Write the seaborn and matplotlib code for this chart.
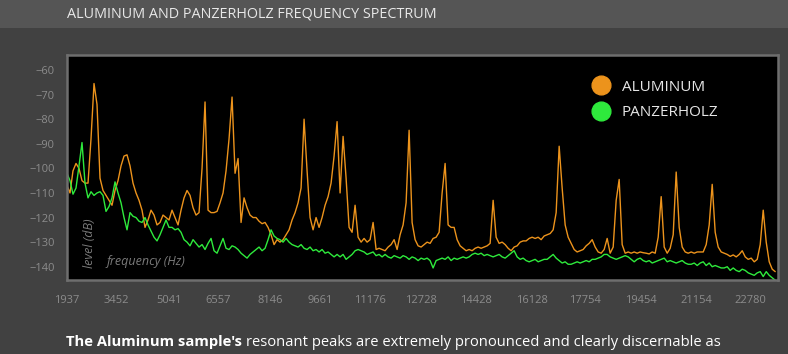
"""
Aluminum vs Panzerholz frequency spectrum
"""

import numpy as np
import pandas as pd
import matplotlib
matplotlib.use('Agg')
import matplotlib.pyplot as plt
import seaborn as sns
from matplotlib.lines import Line2D
from matplotlib.patches import Rectangle

# spectrum bins (evenly spaced FFT bins)
BIN_START_HZ = 1937
BIN_WIDTH_HZ = 91.56

ALUMINUM_DB = [
    -107, -110, -101, -98, -100, -105, -106, -106, -88, -65.5,
    -74, -104, -109, -111, -113, -115, -109, -105, -99, -95,
    -94.5, -99, -106, -110, -113, -117, -124, -121, -117, -119,
    -123, -122, -119, -120, -121, -117, -120, -123, -117, -112,
    -109, -111, -116, -119, -118, -100, -73, -117, -118, -118,
    -117.5, -114, -110, -101, -88, -71, -102, -96, -122, -112,
    -116, -119, -120, -120, -121.5, -122.5, -122, -124, -127, -131,
    -129, -130, -129, -127, -125, -121, -118, -114, -108, -80,
    -101, -120, -125, -120, -124, -120, -115, -111.5, -106, -95,
    -81, -110, -87, -104, -124, -126, -115, -128, -130, -128.5,
    -130, -129, -122, -133, -132.5, -133, -133.5, -132, -131, -129,
    -133, -127, -123, -114, -84.5, -122, -129, -131.5, -132, -131,
    -130, -130.5, -128.5, -128, -126, -110, -98, -123, -124, -124,
    -129, -131.5, -132.5, -133.5, -133, -133.5, -132.5, -132, -132.5, -132,
    -131.5, -130.5, -113, -128, -130.5, -130, -131, -132.5, -133.5, -132,
    -131.5, -130, -129.5, -129.5, -128.5, -128, -128.5, -128, -129, -127.5,
    -127, -126.5, -125, -118, -91, -108, -123, -128, -130.5, -133,
    -134, -133.5, -133, -131.5, -130.5, -129, -132, -134, -134.5, -133,
    -128.5, -134.5, -132, -113, -104.5, -131, -134.5, -134, -134.5, -134,
    -134.5, -134, -134.3, -134.5, -134.8, -134, -134.5, -128, -111.5, -132,
    -134.5, -132.5, -127, -101.5, -124, -132, -134, -134.5, -134, -134.5,
    -134, -134, -134, -131, -123, -106.5, -126, -132, -134, -134.5,
    -135, -135.8, -135.2, -136, -135, -133.5, -136, -137, -136.5, -138,
    -137, -131, -117, -130, -138, -141, -142,
]

PANZERHOLZ_DB = [
    -102, -105, -110.5, -108, -99, -89.5, -106, -112, -109.5, -111,
    -110, -109.5, -111, -117.5, -115.5, -112, -105.5, -110, -114, -120,
    -125, -118, -119.5, -120, -121.5, -122, -120, -123, -125.5, -128,
    -129.5, -127, -124, -121, -124, -124, -125, -124.5, -126, -129,
    -130, -131.5, -129, -130.5, -132, -131, -133, -130.5, -128.5, -133.5,
    -134.5, -131.5, -128.5, -132.5, -133, -131.5, -132, -133, -134.5, -135.5,
    -136.5, -135, -134, -133, -132, -133.5, -132.5, -129, -125, -127.5,
    -128.5, -129, -130, -128.5, -130, -131, -131.5, -132, -131, -132.5,
    -133, -132, -133.5, -133, -134, -133, -134.5, -134, -135, -136,
    -135, -136, -135, -137, -136, -135, -133.5, -133, -133.5, -134,
    -135, -134.5, -134, -135.5, -135, -136, -135, -136, -136.5, -135.5,
    -136, -136.5, -135.5, -136, -137, -136, -136.5, -137.5, -136.5, -137,
    -136.5, -137.5, -140.5, -137.5, -137, -136.5, -137, -136, -137.5, -136.5,
    -137, -136.5, -136, -136.5, -136, -135, -134.5, -135, -134.5, -135.5,
    -135, -135.5, -136, -135.5, -135, -136, -136.5, -135.5, -134.5, -133.5,
    -136, -137, -136.5, -137.5, -138, -137.5, -137, -138, -137.5, -137,
    -137, -136, -135, -136.5, -137.5, -138.5, -138, -139, -139, -138.5,
    -138, -138.5, -138, -137.5, -138, -137, -137, -136.5, -136, -135,
    -135, -136, -136.5, -137, -136.5, -136, -135.5, -136, -137, -138,
    -137, -136.5, -137.5, -138, -137.5, -138.5, -138, -137.5, -137, -136.5,
    -138, -137.5, -138, -138.5, -138, -137.5, -138.5, -139, -139, -138.5,
    -139.5, -138.5, -138, -139.5, -138.5, -140, -139.5, -140, -140.5, -140.5,
    -140, -141.5, -140.5, -141.5, -142, -141, -141.5, -142.5, -143, -143.5,
    -142.5, -142, -144, -142, -143.5, -144.5, -145.5,
]

TICK_FREQS = [1937, 3452, 5041, 6557, 8146, 9661, 11176, 12728,
              14428, 16128, 17754, 19454, 21154, 22780]
LEVEL_TICKS = [-140, -130, -120, -110, -100, -90, -80, -70, -60]

SERIES = ['ALUMINUM', 'PANZERHOLZ']
COLORS = {'ALUMINUM': '#ec931c', 'PANZERHOLZ': '#2eea3c'}

BG = '#414141'
BAND = '#555555'
FRAME = '#6e6e6e'
TICK_TXT = '#8c8c8c'

sns.set_style("dark")
plt.rcParams['font.family'] = ['Open Sans', 'DejaVu Sans']

freq = BIN_START_HZ + BIN_WIDTH_HZ * np.arange(len(ALUMINUM_DB))
df = pd.concat([
    pd.DataFrame({'freq': freq, 'level': ALUMINUM_DB, 'sample': 'ALUMINUM'}),
    pd.DataFrame({'freq': freq, 'level': PANZERHOLZ_DB, 'sample': 'PANZERHOLZ'}),
])

W, H = 788, 354
fig = plt.figure(figsize=(W / 100, H / 100), dpi=100, facecolor=BG)

# title band
fig.patches.append(Rectangle((0, 1 - 28 / H), 1, 28 / H, transform=fig.transFigure,
                             facecolor=BAND, edgecolor='none', zorder=0))
fig.text(67 / W, 1 - 14 / H, 'ALUMINUM AND PANZERHOLZ FREQUENCY SPECTRUM',
         color='#e8e8e8', fontsize=10.4, va='center', ha='left')

ax = fig.add_axes([67 / W, 1 - 280 / H, 711 / W, 225 / H])
ax.set_facecolor('black')

sns.lineplot(data=df, x='freq', y='level', hue='sample', hue_order=SERIES,
             palette=COLORS, linewidth=1.0, estimator=None, sort=False,
             legend=False, ax=ax)

ax.set_xlim(1937, 23630)
ax.set_ylim(-145.4, -53.9)
ax.set_xticks(TICK_FREQS)
ax.set_xticklabels([str(t) for t in TICK_FREQS])
ax.set_yticks(LEVEL_TICKS)
ax.set_xlabel('')
ax.set_ylabel('')
ax.grid(False)
for s in ax.spines.values():
    s.set_visible(True)
    s.set_color(FRAME)
    s.set_linewidth(1.8)
ax.tick_params(axis='both', colors=FRAME, labelcolor=TICK_TXT, labelsize=8,
               length=6, width=1.2, direction='out')
ax.tick_params(axis='x', pad=5)
ax.tick_params(axis='y', pad=3)

# axis captions inside the plot
ax.text(0.032, 0.053, 'level (dB)', transform=ax.transAxes, rotation=90,
        ha='center', va='bottom', color='#7a7a7a', fontsize=9, style='italic')
ax.text(0.056, 0.08, 'frequency (Hz)', transform=ax.transAxes,
        ha='left', va='center', color='#7a7a7a', fontsize=9, style='italic')

handles = [Line2D([], [], marker='o', linestyle='', markersize=13.5,
                  markerfacecolor=COLORS[s], markeredgecolor=COLORS[s]) for s in SERIES]
ax.legend(handles, SERIES, loc='upper left', bbox_to_anchor=(0.7375, 0.89),
          frameon=False, labelcolor='#e6e6e6', fontsize=11, handletextpad=0.8,
          labelspacing=0.7, borderaxespad=0, borderpad=0, handlelength=1.2)

# caption with bold lead-in
fig.canvas.draw()
t1 = fig.text(66 / W, 1 - 342 / H, "The Aluminum sample's", color='white',
              fontsize=10.6, fontweight='bold', va='center', ha='left')
bb = t1.get_window_extent(renderer=fig.canvas.get_renderer())
fig.text((bb.x1 + 4) / W, 1 - 342 / H,
         'resonant peaks are extremely pronounced and clearly discernable as',
         color='white', fontsize=10.6, va='center', ha='left')

fig.savefig('out.png', dpi=100, facecolor=BG)
